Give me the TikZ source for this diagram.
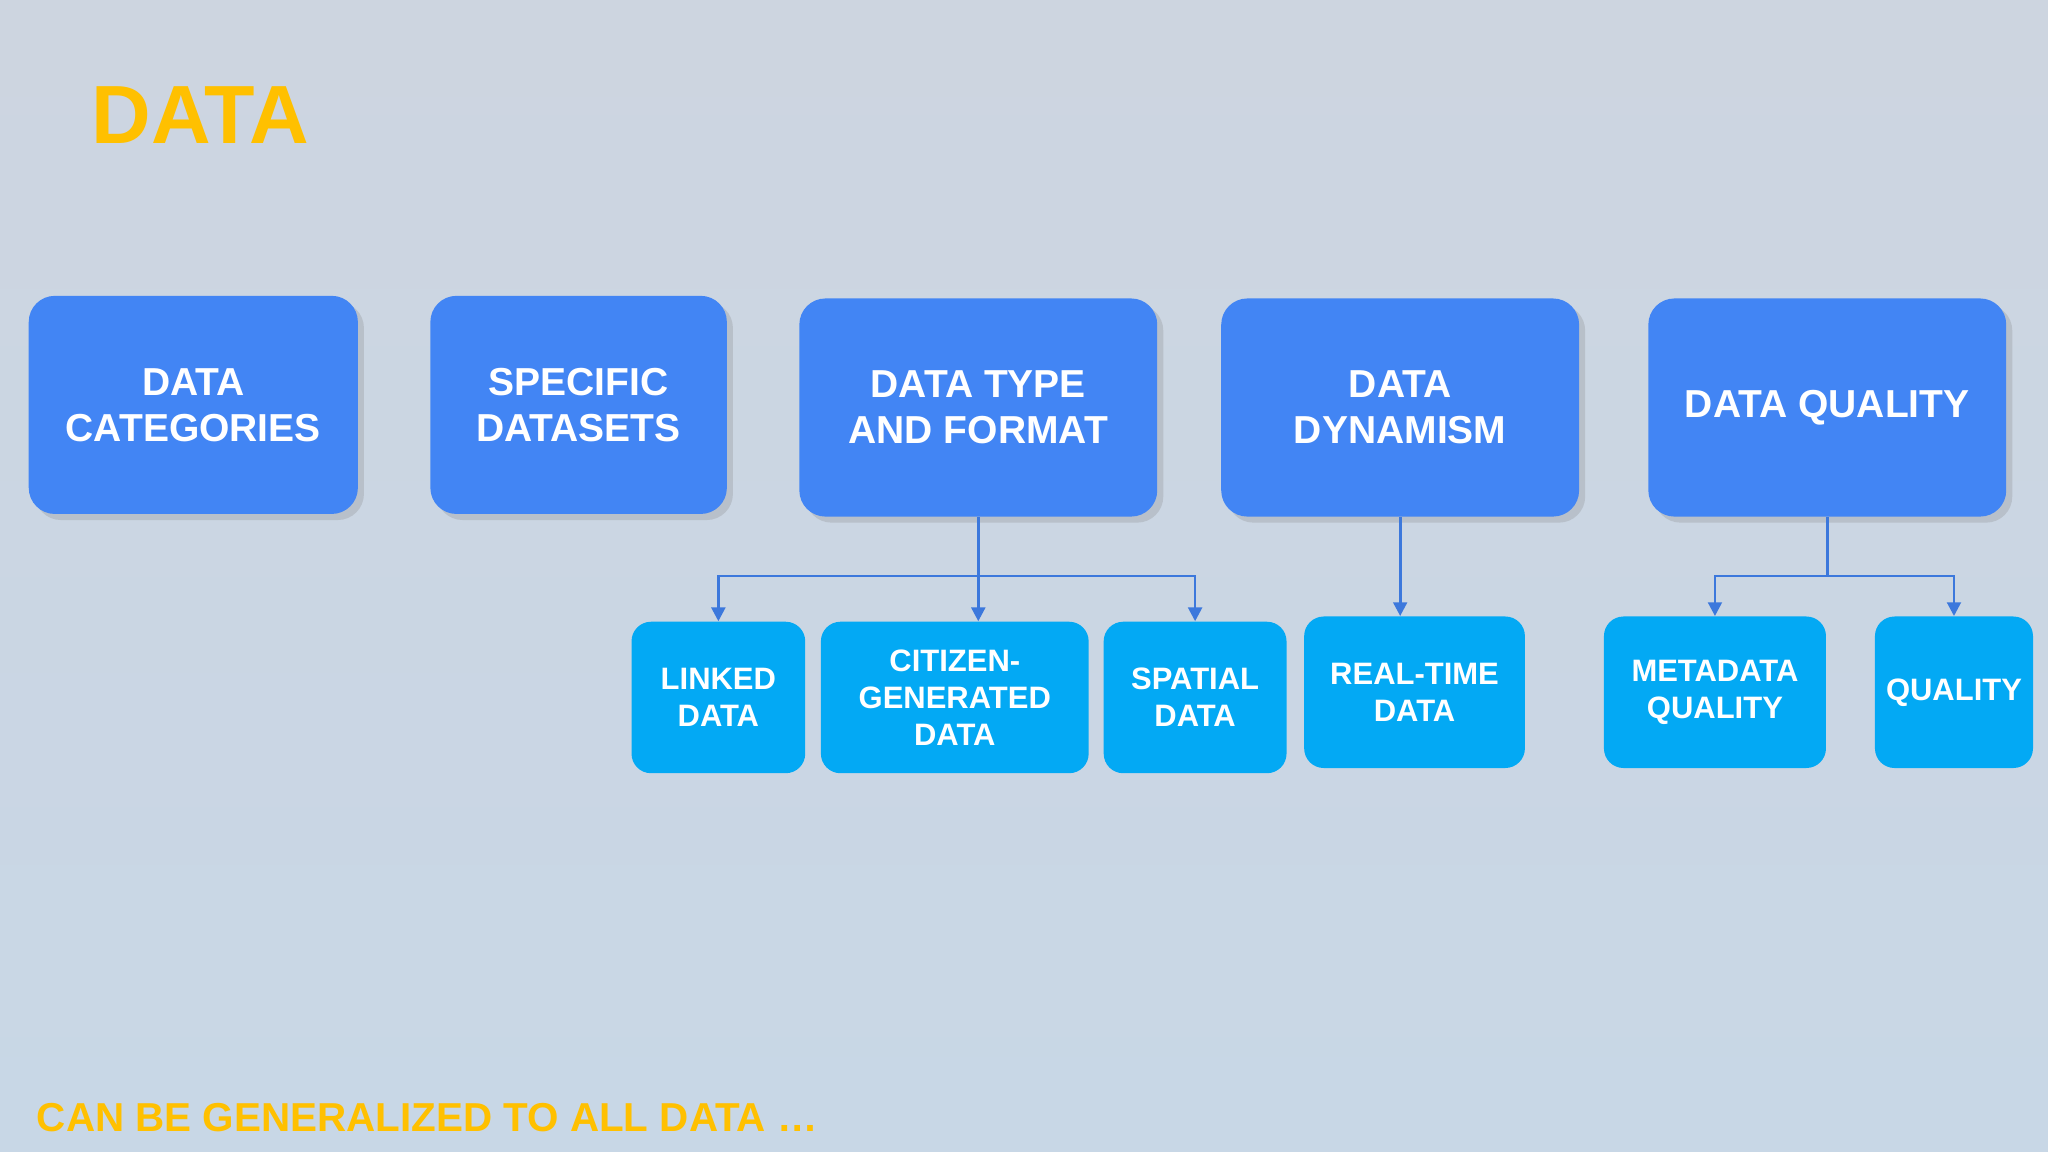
\documentclass[tikz,border=0pt]{standalone}
\usepackage{fontspec}
\setmainfont{Liberation Sans}
\usetikzlibrary{arrows.meta,shadows}
\definecolor{bigb}{RGB}{66,133,244}
\definecolor{smallb}{RGB}{3,169,244}
\definecolor{gold}{RGB}{255,192,0}
\definecolor{conn}{RGB}{60,120,220}
\begin{document}
\begin{tikzpicture}[x=0.02cm,y=-0.02cm,
 bigbox/.style={fill=bigb,rounded corners=0.4cm,text=white,font=\bfseries\fontsize{17}{20}\selectfont,align=center,inner sep=0pt,drop shadow={opacity=0.25}},
 smallbox/.style={fill=smallb,rounded corners=0.3cm,text=white,font=\bfseries\fontsize{13.5}{16}\selectfont,align=center,inner sep=0pt},
 link/.style={draw=conn,line width=1.2pt,-{Triangle[length=6pt,width=6pt]}},
 plain/.style={draw=conn,line width=1.2pt}]
\shade[top color={rgb,255:red,205;green,213;blue,224},bottom color={rgb,255:red,200;green,215;blue,230}] (0,0) rectangle (1568,882);
\useasboundingbox (0,0) rectangle (1568,882);
\node[anchor=west,text=gold,font=\bfseries\fontsize{36}{40}\selectfont] (title) at (64,88) {DATA};
\node[anchor=west,text=gold,font=\bfseries\fontsize{17.6}{20}\selectfont] (foot) at (22,856) {CAN BE GENERALIZED TO ALL DATA …};
\node[bigbox,minimum width=252*0.02cm,minimum height=167*0.02cm] (cat) at (148,310) {DATA\\CATEGORIES};
\node[bigbox,minimum width=227*0.02cm,minimum height=167*0.02cm] (spec) at (443,310) {SPECIFIC\\DATASETS};
\node[bigbox,minimum width=274*0.02cm,minimum height=167*0.02cm] (type) at (749,312) {DATA TYPE\\AND FORMAT};
\node[bigbox,minimum width=274*0.02cm,minimum height=167*0.02cm] (dyn) at (1072,312) {DATA\\DYNAMISM};
\node[bigbox,minimum width=274*0.02cm,minimum height=167*0.02cm] (qual) at (1399,312) {DATA QUALITY};
\node[smallbox,minimum width=133*0.02cm,minimum height=116*0.02cm] (linked) at (550,534) {LINKED\\DATA};
\node[smallbox,minimum width=205*0.02cm,minimum height=116*0.02cm] (cit) at (731,534) {CITIZEN-\\GENERATED\\DATA};
\node[smallbox,minimum width=140*0.02cm,minimum height=116*0.02cm] (spat) at (915,534) {SPATIAL\\DATA};
\node[smallbox,minimum width=169*0.02cm,minimum height=116*0.02cm] (rt) at (1083,530) {REAL-TIME\\DATA};
\node[smallbox,minimum width=170*0.02cm,minimum height=116*0.02cm] (meta) at (1313,530) {METADATA\\QUALITY};
\node[smallbox,minimum width=121*0.02cm,minimum height=116*0.02cm] (q) at (1496,530) {QUALITY};
\coordinate (j1) at (749,441);
\coordinate (j2) at (1399,441);
\draw[plain] (type.south) -- (j1);
\draw[link] (j1) -- (cit.north -| type.south);
\draw[link] (j1) -| (linked.north);
\draw[link] (j1) -| (spat.north);
\draw[link] (dyn.south) -- (dyn.south |- rt.north);
\draw[plain] (qual.south) -- (j2);
\draw[link] (j2) -| (meta.north);
\draw[link] (j2) -| (q.north);
\end{tikzpicture}
\end{document}
